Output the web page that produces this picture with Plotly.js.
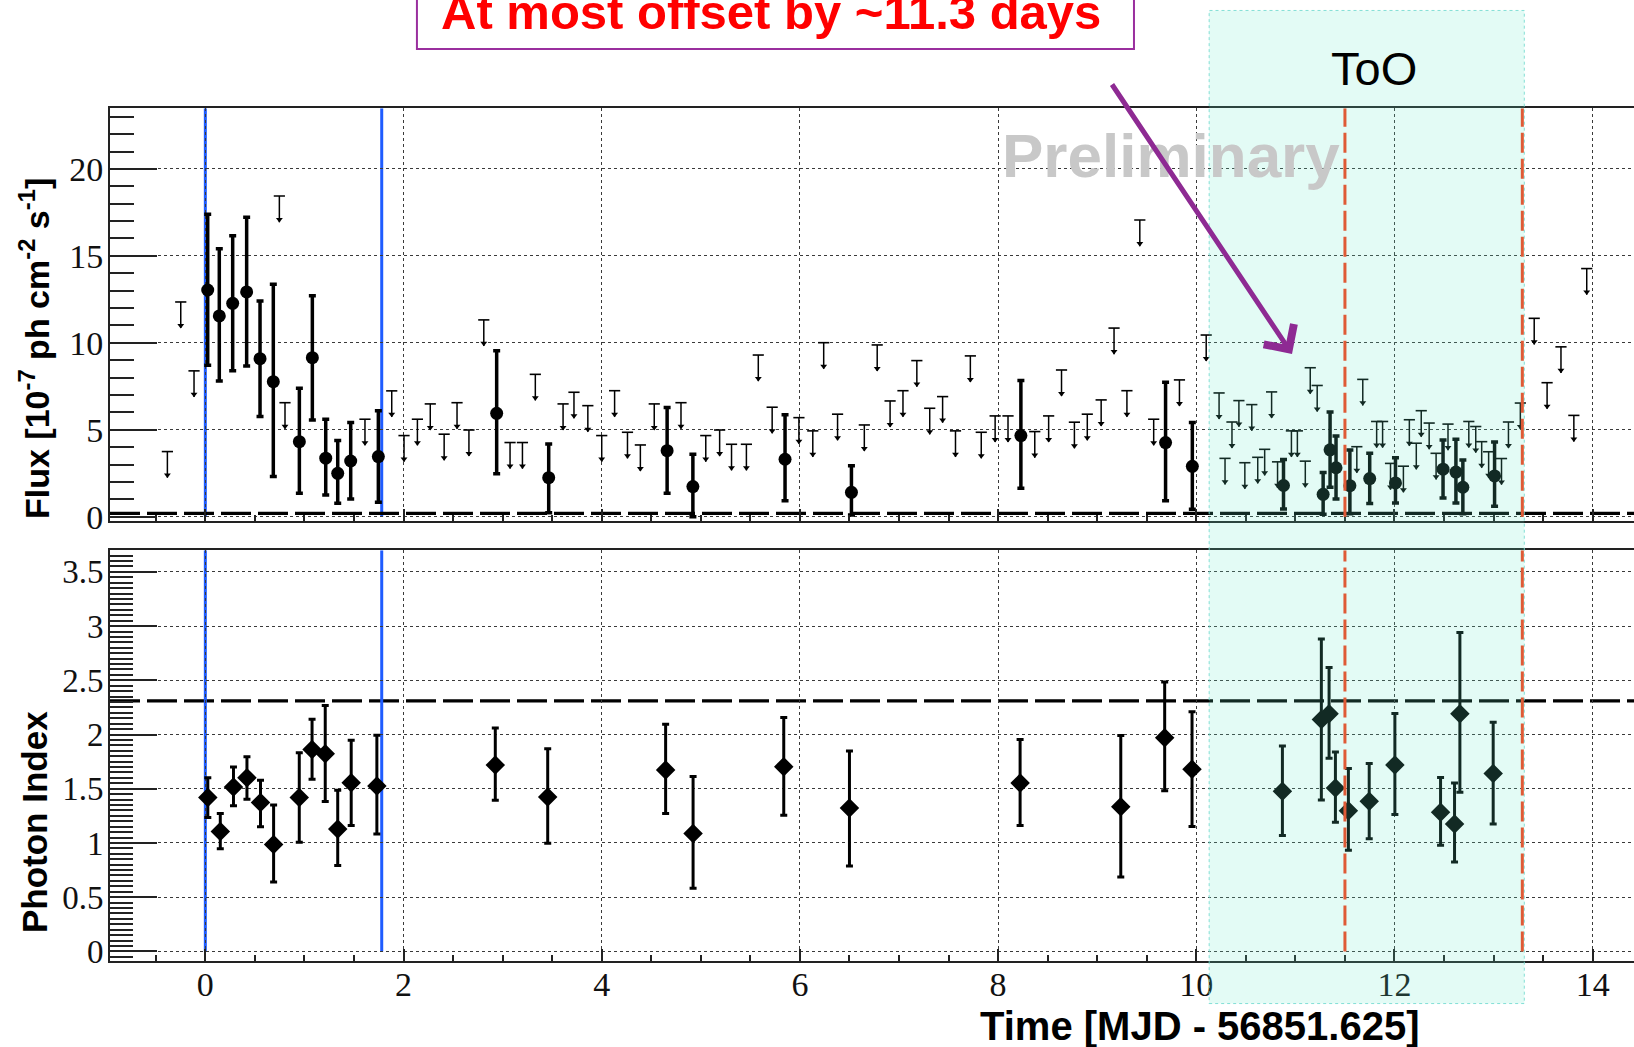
<!DOCTYPE html>
<html><head><meta charset="utf-8">
<script src="https://cdn.plot.ly/plotly-3.0.1.min.js"></script>
<style>html,body{margin:0;padding:0;background:#fff;overflow:hidden}#chart{width:1634px;height:1047px}</style>
</head><body><div id="chart"></div>
<script>
// ---- data ----
const fluxDetTime = [0.024,0.141,0.276,0.417,0.552,0.686,0.949,1.080,1.215,1.336,1.467,1.746,
  2.94,3.465,4.66,4.92,5.85,6.52,8.23,9.69,9.96,10.88,11.28,11.35,11.41,11.55,11.75,12.01,12.49,12.62,12.69,13.01];
const fluxDet = [13.04,11.55,12.27,12.93,9.09,7.77,4.32,9.15,3.37,2.50,3.21,3.46,
  5.95,2.25,3.80,1.74,3.31,1.41,4.67,4.27,2.90,1.80,1.29,3.85,2.82,1.79,2.20,1.95,2.74,2.57,1.70,2.35];
const fluxDetUpper = [17.39,15.41,16.16,17.22,12.41,13.37,7.39,12.71,5.61,4.38,5.42,6.09,
  9.55,4.19,6.28,3.60,5.86,2.93,7.83,7.74,5.42,3.30,2.55,6.02,4.65,3.84,3.65,3.40,4.42,4.46,3.26,4.30];
const fluxDetLower = [8.71,7.81,8.40,8.67,5.76,2.31,1.36,5.57,1.26,0.78,1.03,0.84,
  2.47,0.24,1.36,0.01,0.93,0.11,1.64,0.93,0.44,0.45,0.14,1.70,1.03,0.18,0.76,0.80,1.08,0.79,0.18,0.60];

const fluxULTime = [-0.383,-0.248,-0.114,0.747,0.804,1.611,1.881,2.005,2.14,2.27,2.41,2.54,2.66,2.81,
  3.075,3.20,3.33,3.61,3.72,3.86,4.00,4.13,4.26,4.39,4.53,4.80,5.05,5.19,5.31,5.46,5.58,5.72,5.99,
  6.13,6.24,6.38,6.65,6.78,6.91,7.04,7.18,7.31,7.44,7.57,7.72,7.83,7.97,8.10,8.37,8.51,8.64,8.77,
  8.90,9.04,9.17,9.30,9.43,9.57,9.83,10.10,10.23,10.29,10.36,10.43,10.49,10.56,10.62,10.69,10.76,
  10.82,10.96,11.02,11.10,11.15,11.22,11.62,11.68,11.82,11.88,11.96,12.09,12.15,12.22,12.27,12.35,
  12.42,12.54,12.75,12.82,12.88,12.95,13.08,13.15,13.27,13.41,13.54,13.68,13.81,13.94];
const fluxUL = [3.75,12.35,8.39,18.44,6.56,5.61,7.24,4.67,5.61,6.49,4.75,6.56,4.99,11.32,
  4.27,4.27,8.19,6.49,7.16,6.39,4.67,7.25,4.86,4.13,6.49,6.56,4.67,4.99,4.17,4.17,9.30,6.30,5.70,
  4.94,10.01,5.90,5.28,9.88,6.66,7.25,8.98,6.24,6.91,4.94,9.25,4.86,5.80,5.80,4.90,5.80,8.44,5.44,
  5.90,6.72,10.85,7.25,17.06,5.61,7.87,10.45,7.12,3.36,5.45,6.68,3.11,6.45,3.42,3.88,7.18,
  3.16,4.94,4.94,3.20,8.57,7.55,4.03,7.90,5.48,5.48,3.07,2.91,5.58,4.23,6.10,5.39,
  3.65,5.33,5.48,5.19,4.32,3.74,3.35,5.45,6.54,11.41,7.71,9.77,5.83,14.27];

const indexTime = [0.025,0.151,0.284,0.42,0.557,0.689,0.948,1.077,1.21,1.336,1.472,1.731,
  2.926,3.455,4.645,4.922,5.837,6.50,8.222,9.238,9.681,9.957,10.869,11.262,11.34,11.404,11.535,
  11.745,12.004,12.465,12.606,12.66,12.996];
const indexVal = [1.419,1.105,1.517,1.602,1.373,0.986,1.419,1.861,1.822,1.129,1.556,1.526,
  1.718,1.425,1.674,1.087,1.704,1.323,1.552,1.335,1.971,1.680,1.476,2.139,2.191,1.506,1.298,
  1.384,1.720,1.283,1.176,2.191,1.641];
const indexUpper = [1.602,1.272,1.70,1.794,1.578,1.349,1.831,2.142,2.267,1.486,1.947,1.993,
  2.060,1.870,2.095,1.613,2.156,1.848,1.955,1.992,2.484,2.209,1.894,2.881,2.618,1.839,1.687,
  1.732,2.194,1.604,1.552,2.942,2.114];
const indexLower = [1.236,0.946,1.343,1.404,1.150,0.641,1.007,1.587,1.382,0.793,1.160,1.083,
  1.395,0.997,1.271,0.583,1.255,0.788,1.161,0.687,1.482,1.152,1.069,1.396,1.781,1.192,0.932,
  1.039,1.262,0.978,0.825,1.467,1.176];

const fluxTicks = [0,5,10,15,20];
const indexTicks = [0,0.5,1,1.5,2,2.5,3,3.5];
const timeTicks = [0,2,4,6,8,10,12,14];

const fluxRefLevel = 0.2;
const indexRefLevel = 2.31;
const flareLines = [0, 1.78];
const tooLines = [11.5, 13.29];
const tooWindow = [10.13, 13.31];

// ---- styling constants ----
const UL_ARROW = 1.5;           // arrow length of upper limits (flux units)
const XR = [-0.962, 14.417];
const FR = [-0.24, 23.48];
const IR = [-0.087, 3.70];
const AXC = '#222';
const serif = 'Liberation Serif, Times New Roman, serif';
const sans = 'Liberation Sans, Arial, Helvetica, sans-serif';

const traces = [
  { // upper-limit caps + shafts
    x: fluxULTime, y: fluxUL, xaxis:'x2', yaxis:'y2', type:'scatter', mode:'markers',
    marker:{symbol:'line-ew', size:8, color:'#000', line:{width:1.6, color:'#000'}},
    error_y:{type:'data', symmetric:false, array:fluxUL.map(()=>0), arrayminus:fluxUL.map(()=>UL_ARROW),
      thickness:1.5, width:0, color:'#000'},
    hoverinfo:'skip', showlegend:false
  },
  { // upper-limit arrow heads
    x: fluxULTime, y: fluxUL.map(v=>v-UL_ARROW+0.15), xaxis:'x2', yaxis:'y2', type:'scatter', mode:'markers',
    marker:{symbol:'triangle-down', size:6, color:'#000'}, hoverinfo:'skip', showlegend:false
  },
  { // flux detections
    x: fluxDetTime, y: fluxDet, xaxis:'x2', yaxis:'y2', type:'scatter', mode:'markers',
    marker:{symbol:'circle', size:13, color:'#000'},
    error_y:{type:'data', symmetric:false, array:fluxDetUpper.map((u,i)=>u-fluxDet[i]),
      arrayminus:fluxDet.map((v,i)=>v-fluxDetLower[i]), thickness:3.5, width:3.5, color:'#000'},
    showlegend:false
  },
  { // photon index
    x: indexTime, y: indexVal, xaxis:'x', yaxis:'y', type:'scatter', mode:'markers',
    marker:{symbol:'diamond', size:15, color:'#000'},
    error_y:{type:'data', symmetric:false, array:indexUpper.map((u,i)=>u-indexVal[i]),
      arrayminus:indexVal.map((v,i)=>v-indexLower[i]), thickness:3, width:3.5, color:'#000'},
    showlegend:false
  }
];

const xBase = {
  range: XR, tickmode:'array', tickvals: timeTicks, ticktext: timeTicks.map(String),
  ticks:'inside', ticklen:12, tickwidth:2, tickcolor:AXC,
  minor:{tickmode:'linear', tick0:0, dtick:0.5, ticks:'inside', ticklen:6, tickwidth:2, tickcolor:AXC, showgrid:false},
  showline:true, linecolor:AXC, linewidth:2, mirror:true,
  showgrid:true, gridcolor:'#3a3a3a', griddash:'dot', gridwidth:1, zeroline:false, automargin:false,
  tickfont:{family:serif, size:34, color:'#111'}, ticklabelstandoff:-8
};

const layout = {
  width:1634, height:1047, margin:{l:110, r:0, t:0, b:0},
  paper_bgcolor:'#fff', plot_bgcolor:'#fff', showlegend:false,
  xaxis: Object.assign({}, xBase, {domain:[0,1], anchor:'y'}),
  xaxis2: Object.assign({}, xBase, {domain:[0,1], anchor:'y2', matches:'x', showticklabels:false}),
  yaxis: {
    domain:[0.0823,0.4745], anchor:'x', range: IR, tickmode:'array', tickvals: indexTicks,
    ticktext: indexTicks.map(String),
    ticks:'inside', ticklen:47, tickwidth:2, tickcolor:AXC,
    minor:{tickmode:'linear', tick0:0, dtick:0.05, ticks:'inside', ticklen:23, tickwidth:2, tickcolor:AXC, showgrid:false},
    showline:true, linecolor:AXC, linewidth:2,
    showgrid:true, gridcolor:'#3a3a3a', griddash:'dot', gridwidth:1, zeroline:false, automargin:false,
    tickfont:{family:serif, size:33, color:'#111'}, ticklabelstandoff:-2
  },
  yaxis2: {
    domain:[0.5024,0.8965], anchor:'x2', range: FR, tickmode:'array', tickvals: fluxTicks,
    ticktext: fluxTicks.map(String),
    ticks:'inside', ticklen:47, tickwidth:2, tickcolor:AXC,
    minor:{tickmode:'linear', tick0:0, dtick:1, ticks:'inside', ticklen:24, tickwidth:2, tickcolor:AXC, showgrid:false},
    showline:true, linecolor:AXC, linewidth:2,
    showgrid:true, gridcolor:'#3a3a3a', griddash:'dot', gridwidth:1, zeroline:false, automargin:false,
    tickfont:{family:serif, size:34, color:'#111'}, ticklabelstandoff:-2
  },
  shapes: [],
  annotations: []
};

// flare (blue) lines in both panels
flareLines.forEach(t => {
  layout.shapes.push({type:'line', xref:'x', yref:'y2', x0:t, x1:t, y0:0, y1:FR[1], layer:'below',
    line:{color:'#1f5cff', width:3}});
  layout.shapes.push({type:'line', xref:'x', yref:'y', x0:t, x1:t, y0:0, y1:IR[1], layer:'below',
    line:{color:'#1f5cff', width:3}});
});
// reference dashed levels
layout.shapes.push({type:'line', xref:'paper', yref:'y2', x0:0, x1:1, y0:fluxRefLevel, y1:fluxRefLevel,
  layer:'below', line:{color:'#000', width:3.2, dash:'30px,7px'}});
layout.shapes.push({type:'line', xref:'paper', yref:'y', x0:0, x1:1, y0:indexRefLevel, y1:indexRefLevel,
  layer:'below', line:{color:'#000', width:3.2, dash:'30px,7px'}});
// ToO window shading
layout.shapes.push({type:'rect', xref:'x', yref:'paper', x0:tooWindow[0], x1:tooWindow[1], y0:0.0415, y1:0.990,
  layer:'above', fillcolor:'rgba(100,235,200,0.18)', line:{color:'rgba(120,220,210,0.9)', width:1, dash:'dot'}});
// ToO dashed lines
tooLines.forEach(t => {
  layout.shapes.push({type:'line', xref:'x', yref:'y2', x0:t, x1:t, y0:0, y1:FR[1], layer:'above',
    line:{color:'#df5a36', width:3, dash:'20px,6px'}});
  layout.shapes.push({type:'line', xref:'x', yref:'y', x0:t, x1:t, y0:0, y1:IR[1], layer:'above',
    line:{color:'#df5a36', width:3, dash:'20px,6px'}});
});
// purple box around red caption
layout.shapes.push({type:'rect', xref:'paper', yref:'paper', x0:0.2014, x1:0.6719, y0:0.9532, y1:1.05,
  layer:'above', fillcolor:'rgba(0,0,0,0)', line:{color:'#9a2f9e', width:2}});

layout.annotations = [
  {text:'Flux [10<sup>-7</sup> ph cm<sup>-2</sup> s<sup>-1</sup>]', xref:'paper', yref:'paper', x:-0.0492, y:0.6667,
   textangle:-90, showarrow:false, xanchor:'center', yanchor:'middle',
   font:{family:sans, size:34, color:'#000', weight:'bold'}},
  {text:'Photon Index', xref:'paper', yref:'paper', x:-0.0492, y:0.2149,
   textangle:-90, showarrow:false, xanchor:'center', yanchor:'middle',
   font:{family:sans, size:35, color:'#000', weight:'bold'}},
  {text:'Time [MJD - 56851.625]', xref:'paper', yref:'paper', x:0.7149, y:0.0201,
   showarrow:false, xanchor:'center', yanchor:'middle',
   font:{family:sans, size:40, color:'#000', weight:'bold'}},
  {text:'Preliminary', xref:'paper', yref:'paper', x:0.6962, y:0.8515, showarrow:false,
   xanchor:'center', yanchor:'middle', font:{family:sans, size:62, color:'#c8c8c8', weight:'bold'}},
  {text:'ToO', xref:'paper', yref:'paper', x:0.8294, y:0.9344, showarrow:false,
   xanchor:'center', yanchor:'middle', font:{family:sans, size:47, color:'#000'}},
  {text:'At most offset by ~11.3 days', xref:'paper', yref:'paper', x:0.4337, y:0.9885, showarrow:false,
   xanchor:'center', yanchor:'middle',
   font:{family:sans, size:49, color:'#ff0000', weight:'bold'}},
  {text:'', xref:'paper', yref:'paper', x:0.7756, y:0.6619, ax:-181, ay:-271, showarrow:true,
   arrowhead:4, arrowsize:1.4, arrowwidth:5, arrowcolor:'#8e2a93'}
];

Plotly.newPlot('chart', traces, layout, {staticPlot:true, displayModeBar:false});
</script></body></html>
